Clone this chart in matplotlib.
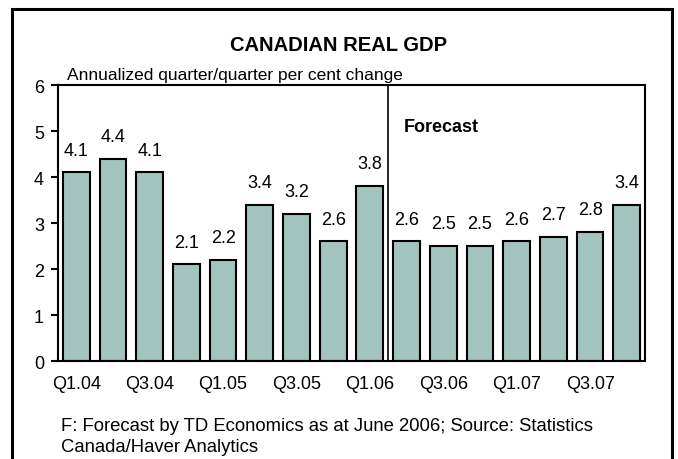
import matplotlib
matplotlib.use("Agg")
import matplotlib.pyplot as plt
from matplotlib.patches import Rectangle

plt.rcParams['font.family'] = ['Liberation Sans', 'DejaVu Sans']

quarters = ['Q1.04', 'Q2.04', 'Q3.04', 'Q4.04', 'Q1.05', 'Q2.05', 'Q3.05', 'Q4.05',
            'Q1.06', 'Q2.06', 'Q3.06', 'Q4.06', 'Q1.07', 'Q2.07', 'Q3.07', 'Q4.07']
gdp_growth = [4.1, 4.4, 4.1, 2.1, 2.2, 3.4, 3.2, 2.6, 3.8, 2.6, 2.5, 2.5, 2.6, 2.7, 2.8, 3.4]
forecast_start = 9  # first forecast quarter (Q2.06)

fig = plt.figure(figsize=(6.78, 4.6), dpi=100)
ax = fig.add_axes([0.0855, 0.213, 0.866, 0.6])

x = list(range(len(quarters)))
ax.bar(x, gdp_growth, width=0.73, color='#a3c4be', edgecolor='black', linewidth=1.5)
for xi, v in zip(x, gdp_growth):
    ax.text(xi, v + 0.3, '%.1f' % v, ha='center', va='bottom', fontsize=13)

ax.axvline(forecast_start - 0.5, color='black', linewidth=1.2)
ax.text(forecast_start - 0.07, 5.1, 'Forecast', fontsize=13, fontweight='bold',
        ha='left', va='center')

ax.set_xlim(-0.5, len(quarters) - 0.5)
ax.set_ylim(0, 6)
ax.set_yticks(range(7))
ax.set_xticks(x[::2])
ax.set_xticklabels(quarters[::2])
ax.tick_params(axis='x', length=0, labelsize=13, pad=10)
ax.tick_params(axis='y', length=5, width=1.5, labelsize=13, direction='out', pad=5)
for s in ax.spines.values():
    s.set_linewidth(1.5)

ax.text(-0.25, 6.06, 'Annualized quarter/quarter per cent change', fontsize=12.5,
        ha='left', va='bottom')

fig.text(0.5, 0.902, 'CANADIAN REAL GDP', ha='center', va='center',
         fontsize=14.5, fontweight='bold')
fig.text(0.09, 0.05, 'F: Forecast by TD Economics as at June 2006; Source: Statistics\nCanada/Haver Analytics',
         ha='left', va='center', fontsize=13.3, linespacing=1.35)

fig.patches.append(Rectangle((12 / 678, -0.1), 660 / 678, 1.1 - 10 / 460,
                             transform=fig.transFigure, fill=False,
                             edgecolor='black', linewidth=2.2))

fig.savefig('out.png', dpi=100)
